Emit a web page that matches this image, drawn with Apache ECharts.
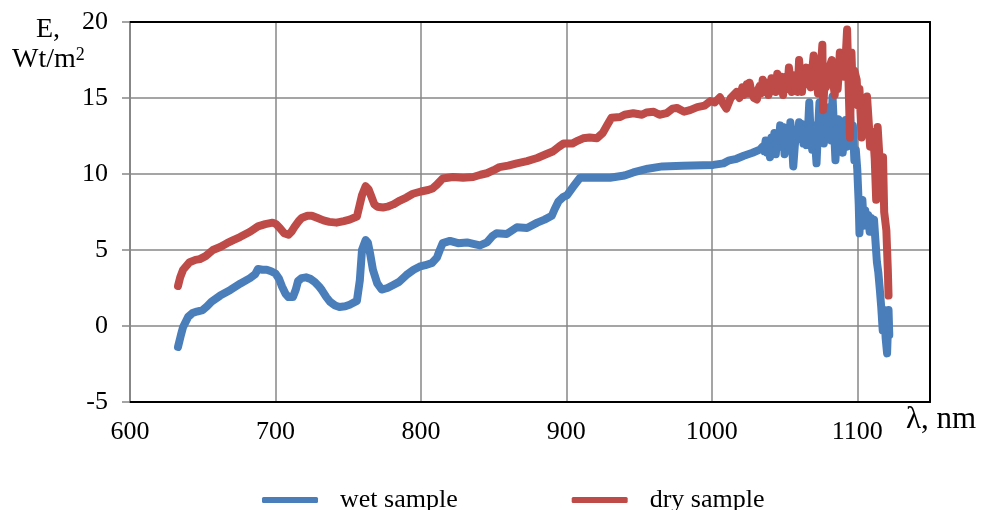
<!DOCTYPE html>
<html>
<head>
<meta charset="utf-8">
<script src="https://cdn.jsdelivr.net/npm/echarts@6/dist/echarts.min.js"></script>
<style>
html,body{margin:0;padding:0;background:#fff;}
#chart{width:982px;height:510px;}
</style>
</head>
<body>
<div id="chart"></div>
<script>
// wavelength (nm) and irradiance E (Wt/m^2)
var wetLambda = [633,635,636.5,640,643,646,650,653,656,662,669,676,682.5,686,688,691,694,697,700,702.5,704.5,707,709,712,714,715.5,718,721,724,727,730,732,735,737.5,741,744,748,751,756,758,759.5,762,763.5,765,767,770,773,777,781,785,790,795,799,803,807.6,811,813,815,820,825.5,831.7,836,840.6,845.4,849,852,859,866,873,880,885,890,892,894.6,898,900.4,905,909.4,920,930,940,946,956,966,980,1001,1008,1012,1017,1022,1028,1033,
  1035,1036,1037,1038,1039,1040,1041,1042,1043,1044,1045,1046,1047,1048,1049,1050,1051,1052,1053,1054,1055,1056,1057,1058,1059,1060,1061,1062,1063,1064,1065,1066,1067,1068,1069,1070,1071,1072,1073,1074,1075,1076,1077,1078,1079,1080,1081,1082,1083,1084,1085,1086,1087,1088,1089,1090,1091,1092,1093,1094,1095,1096,1097,1098,1099,1100,
  1101,1101.5,1102.5,1103.5,1104.5,1105.5,1106.5,1107.5,1108.5,1109.5,1110.5,1111.5,1112.5,1113.5,1114.5,1115.5,1116.5,1117.5,1118.5,1119.5,1120.5,1121.5,1122];
var wetE = [-1.38,-0.6,-0.07,0.6,0.85,0.95,1.05,1.3,1.6,2.0,2.37,2.8,3.15,3.4,3.75,3.7,3.7,3.6,3.45,3.1,2.6,2.1,1.9,1.9,2.4,2.95,3.15,3.2,3.1,2.9,2.6,2.35,1.9,1.6,1.35,1.25,1.3,1.4,1.65,3.0,5.0,5.65,5.5,4.8,3.7,2.8,2.4,2.5,2.7,2.9,3.35,3.7,3.9,4.0,4.15,4.5,5.0,5.45,5.6,5.45,5.5,5.4,5.3,5.5,5.9,6.1,6.05,6.5,6.45,6.8,7.0,7.25,7.7,8.2,8.5,8.6,9.2,9.75,9.75,9.75,9.9,10.1,10.35,10.5,10.55,10.6,10.7,10.9,11.0,11.2,11.4,11.6,
  11.8,11.5,12.2,11.4,12.0,11.1,12.4,11.9,12.7,11.3,12.6,12.1,13.2,11.8,13.1,11.3,12.0,12.8,11.9,13.4,12.2,10.5,11.8,12.9,12.3,13.4,12.6,13.3,12.0,13.0,11.9,12.7,14.7,12.4,11.6,13.2,12.1,10.7,12.9,14.7,12.3,13.5,12.0,14.0,12.6,13.1,14.4,12.2,15.1,13.0,10.9,12.8,13.6,12.1,13.0,11.4,12.6,13.55,11.8,12.4,14.0,12.4,13.2,10.9,11.6,10.3,
  8.0,6.1,7.8,8.3,6.6,7.6,6.8,7.3,6.2,7.1,6.45,7.0,5.6,4.2,3.5,2.4,1.2,-0.3,1.05,-0.8,-1.8,1.05,-0.6];
var dryLambda = [633,634.5,636.5,641,645,648,652,657,662,666.7,671,675.6,682.5,688,693,698,700.5,703,706,709,711,713,716,718,722,725,729,733,737,742,747,751,756,758,759.5,762,764,766,768,770,774,777,781,785.6,790,794.5,800,805,808,811,815,822,829,836,841,845.4,850,854,860,866,873,880,886,891,895,898,904,908,911.5,916,921,925,928,931,937,940,946,952,955,960,964,969,973,976,981,985,990,995,999,1002,1005.6,1008,1010,1013,1017,
  1019,1021,1022,1024,1025,1026,1027,1028,1029,1031,1032,1033,1034,1035,1036,1037,1038,1039,1040,1041,1042,1043,1044,1045,1046,1047,1048,1049,1050,1051,1052,1053,1054,1055,1056,1057,1058,1059,1060,1061,1062,1063,1064,1065,1066,1067,1068,1069,1070,1071,1072,1073,1074,1075,1076,1076.5,1077.5,1078.5,1079.5,1080.5,1081.5,1082.5,1083.5,1084.5,1085.5,1086.5,1087.5,1088,1089,1090,1091,1092,1093,1094,1095,1096,1097,1098,1099.6,
  1100.5,1101.5,1103,1104,1105,1106.7,1108,1108.8,1110,1111,1112,1113,1114,1115,1115.6,1116.5,1117.7,1118.5,1120,1121,1121.5];
var dryE = [2.63,3.2,3.7,4.2,4.35,4.4,4.6,5.0,5.2,5.45,5.65,5.85,6.2,6.55,6.7,6.8,6.7,6.45,6.1,6.0,6.2,6.5,6.9,7.1,7.25,7.25,7.1,6.95,6.85,6.8,6.9,7.0,7.2,8.0,8.6,9.2,9.0,8.5,8.0,7.85,7.8,7.85,8.0,8.25,8.45,8.7,8.85,8.95,9.05,9.3,9.7,9.8,9.75,9.8,9.95,10.05,10.25,10.45,10.55,10.7,10.85,11.05,11.3,11.5,11.8,12.0,12.0,12.2,12.35,12.4,12.35,12.7,13.2,13.7,13.75,13.9,14.0,13.9,14.05,14.1,13.9,14.0,14.3,14.35,14.1,14.2,14.4,14.5,14.8,14.7,15.05,14.6,14.3,15.0,15.4,
  15.0,15.7,15.2,15.9,15.3,16.0,15.5,15.6,15.0,14.9,15.6,15.8,15.3,16.2,15.6,15.4,16.0,15.2,15.5,16.3,15.7,16.1,15.4,16.6,16.0,15.8,16.4,15.2,16.0,16.4,15.6,17.0,16.2,15.4,16.5,15.8,16.3,15.4,17.5,16.0,15.4,16.6,16.2,17.0,15.9,16.5,15.7,16.8,17.8,16.2,16.8,15.3,16.4,17.0,18.5,14.2,16.0,15.7,16.8,16.1,17.2,17.5,16.0,15.2,16.8,15.6,17.0,18.0,16.5,17.2,16.4,17.6,19.5,16.0,12.4,18.0,15.0,16.8,16.2,
  14.5,15.6,12.4,14.0,13.4,15.1,13.2,11.8,12.8,12.5,11.0,8.3,13.1,11.5,10.5,9.5,11.1,7.5,6.3,3.7,2.0];
var xTicks = [600,700,800,900,1000,1100];
var yTicks = [-5,0,5,10,15,20];
var seriesNames = ['wet sample','dry sample'];

function pairs(xs, ys){ var out=[]; for(var i=0;i<xs.length;i++){ out.push([xs[i], ys[i]]); } return out; }

var FONT = "'Liberation Serif','Times New Roman',serif";
var GRID = '#878787';
var chart = echarts.init(document.getElementById('chart'), null, {renderer:'canvas'});
chart.setOption({
  animation:false,
  backgroundColor:'#fff',
  grid:{left:130, right:52, top:22, bottom:108},
  legend:{
    data:seriesNames,
    left:262, top:487, padding:0,
    itemWidth:56, itemHeight:6, itemGap:114,
    icon:'roundRect',
    textStyle:{fontFamily:FONT, fontSize:26, color:'#000', lineHeight:26, padding:[0,0,0,17]}
  },
  xAxis:[{
    type:'value', min:xTicks[0], max:1150, interval:100,
    axisLine:{show:true, onZero:false, lineStyle:{color:'#000', width:2}},
    axisTick:{show:false},
    splitLine:{show:true, lineStyle:{color:GRID, width:1.5}},
    axisLabel:{margin:17, fontFamily:FONT, fontSize:26, color:'#000',
      formatter:function(v){ return xTicks.indexOf(v)>=0 ? String(v) : ''; }}
  },{
    type:'value', position:'top', min:xTicks[0], max:1150,
    axisLine:{show:true, onZero:false, lineStyle:{color:'#000', width:2}},
    axisTick:{show:false}, axisLabel:{show:false}, splitLine:{show:false}
  }],
  yAxis:[{
    type:'value', min:yTicks[0], max:yTicks[yTicks.length-1], interval:5,
    axisLine:{show:true, onZero:false, lineStyle:{color:GRID, width:2}},
    axisTick:{show:true, length:8, lineStyle:{color:GRID, width:1.5}},
    splitLine:{show:true, lineStyle:{color:GRID, width:1.5}},
    axisLabel:{margin:22, fontFamily:FONT, fontSize:26, color:'#000'}
  },{
    type:'value', position:'right', min:yTicks[0], max:yTicks[yTicks.length-1],
    axisLine:{show:true, onZero:false, lineStyle:{color:'#000', width:2}},
    axisTick:{show:false}, axisLabel:{show:false}, splitLine:{show:false}
  }],
  graphic:[
    {type:'text', left:36, top:16, style:{text:'E,', font:"28px "+FONT, fill:'#000'}},
    {type:'text', left:12, top:46, style:{text:'Wt/m{sup|2}', font:"28px "+FONT, fill:'#000',
      rich:{sup:{fontSize:18, verticalAlign:'top', padding:[0,0,10,0], fontFamily:FONT}}}},
    {type:'text', left:906, top:404, style:{text:'λ, nm', font:"31px "+FONT, fill:'#000'}}
  ],
  series:[
    {name:seriesNames[0], type:'line', data:pairs(wetLambda, wetE), showSymbol:false, symbol:'none',
      color:'#4A7EBB', lineStyle:{width:8, color:'#4A7EBB', cap:'round', join:'round'}, z:2},
    {name:seriesNames[1], type:'line', data:pairs(dryLambda, dryE), showSymbol:false, symbol:'none',
      color:'#BE4B48', lineStyle:{width:8, color:'#BE4B48', cap:'round', join:'round'}, z:3}
  ]
});
</script>
</body>
</html>
